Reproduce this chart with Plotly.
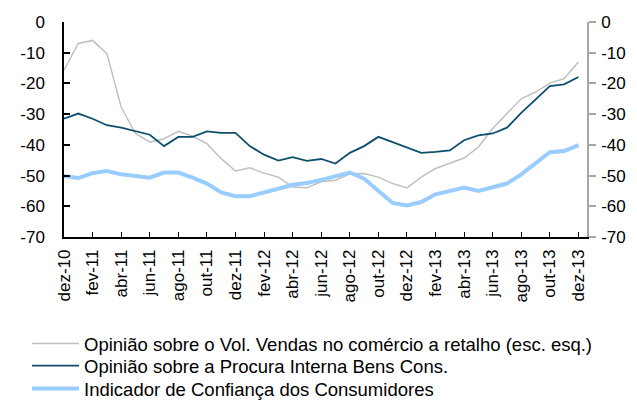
import plotly.graph_objects as go

months = ["dez-10", "jan-11", "fev-11", "mar-11", "abr-11", "mai-11", "jun-11", "jul-11",
          "ago-11", "set-11", "out-11", "nov-11", "dez-11", "jan-12", "fev-12", "mar-12",
          "abr-12", "mai-12", "jun-12", "jul-12", "ago-12", "set-12", "out-12", "nov-12",
          "dez-12", "jan-13", "fev-13", "mar-13", "abr-13", "mai-13", "jun-13", "jul-13",
          "ago-13", "set-13", "out-13", "nov-13", "dez-13"]

vendas = [-15.7, -7.0, -6.0, -10.3, -27.7, -36.3, -39.1, -38.0, -35.6, -37.2, -39.6, -44.5,
          -48.5, -47.5, -49.2, -50.5, -53.7, -54.0, -52.0, -51.5, -49.4, -49.3, -50.5, -52.6,
          -54.0, -50.5, -47.7, -46.1, -44.3, -40.7, -34.7, -29.8, -25.0, -22.8, -19.9, -18.4,
          -13.0]

procura = [-31.5, -29.8, -31.5, -33.6, -34.4, -35.5, -36.7, -40.4, -37.4, -37.4, -35.6, -36.1,
           -36.1, -40.4, -43.2, -45.1, -44.0, -45.2, -44.6, -46.1, -42.6, -40.4, -37.4, -39.1,
           -40.9, -42.6, -42.3, -41.8, -38.5, -36.9, -36.3, -34.4, -29.6, -25.3, -20.9, -20.3,
           -17.9]

confianca = [-50.1, -50.8, -49.2, -48.5, -49.6, -50.1, -50.7, -49.0, -49.0, -50.7, -52.6, -55.5,
             -56.7, -56.7, -55.6, -54.3, -53.0, -52.4, -51.4, -50.1, -49.0, -51.0, -54.8, -58.9,
             -59.7, -58.6, -56.1, -55.0, -53.9, -55.0, -53.9, -52.6, -49.6, -46.1, -42.4, -42.0,
             -40.1]

series_names = ["Opinião sobre o Vol. Vendas no comércio a retalho (esc. esq.)",
                "Opinião sobre a Procura Interna Bens Cons.",
                "Indicador de Confiança dos Consumidores"]

y_ticks = [0, -10, -20, -30, -40, -50, -60, -70]
y_ticktext = ["0", "-10", "-20", "-30", "-40", "-50", "-60", "-70"]

idx = list(range(len(months)))
x_tickvals = idx[::2]
x_ticktext = months[::2]

font = "Liberation Sans, Arial, sans-serif"

fig = go.Figure()
fig.add_trace(go.Scatter(x=idx, y=vendas, mode="lines", name=series_names[0],
                         line=dict(color="#C0C0C0", width=1.5), yaxis="y",
                         legend="legend"))
fig.add_trace(go.Scatter(x=idx, y=procura, mode="lines", name=series_names[1],
                         line=dict(color="#0E4F6E", width=1.8), yaxis="y2",
                         legend="legend2"))
fig.add_trace(go.Scatter(x=idx, y=confianca, mode="lines", name=series_names[2],
                         line=dict(color="#99CCFF", width=4), yaxis="y2",
                         legend="legend3"))

legend_common = dict(orientation="v", x=-0.0707, xanchor="left", yanchor="middle",
                     font=dict(size=18.5, family=font), bgcolor="rgba(0,0,0,0)",
                     itemwidth=47)

fig.update_layout(
    width=629, height=393,
    margin=dict(l=56, r=50, t=14, b=164, autoexpand=False),
    paper_bgcolor="white", plot_bgcolor="white",
    font=dict(family=font, size=17, color="black"),
    showlegend=True,
    legend=dict(y=-0.4977, **legend_common),
    legend2=dict(y=-0.600, **legend_common),
    legend3=dict(y=-0.707, **legend_common),
    xaxis=dict(range=[0, 36.6], tickvals=x_tickvals, ticktext=x_ticktext,
               tickangle=-90, ticks="inside", ticklen=5, tickcolor="black",
               showline=True, linecolor="black", linewidth=1.5, showgrid=False,
               zeroline=False, tickfont=dict(size=17), ticklabelstandoff=4,
               automargin=False),
    yaxis=dict(range=[-70, 0], tickvals=y_ticks, ticktext=y_ticktext,
               ticks="inside", ticklen=6, tickcolor="black", tickwidth=1.5,
               showline=True, linecolor="black", linewidth=1.5, showgrid=False,
               zeroline=False, tickfont=dict(size=17), ticklabelstandoff=14,
               automargin=False),
    yaxis2=dict(range=[-70, 0], tickvals=y_ticks, ticktext=y_ticktext,
                overlaying="y", side="right", anchor="x",
                ticks="outside", ticklen=7, tickcolor="#A6A6A6", tickwidth=1.5,
                showline=True, linecolor="#A6A6A6", linewidth=1.5, showgrid=False,
                zeroline=False, tickfont=dict(size=17), ticklabelstandoff=2,
                automargin=False),
)

fig.write_html("out.html")
